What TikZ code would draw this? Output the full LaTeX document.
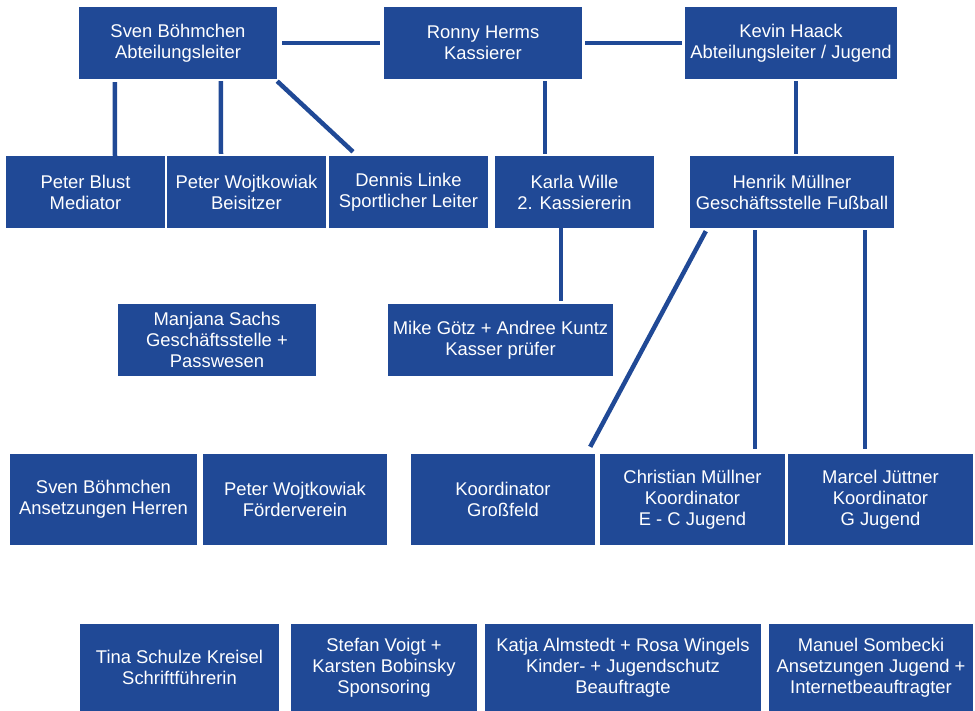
\documentclass[tikz,border=0pt]{standalone}
\usepackage{fontspec}
\setmainfont{Liberation Sans}
\usetikzlibrary{positioning}

\definecolor{clubblue}{RGB}{32,73,150}

\begin{document}
\begin{tikzpicture}[
  x=1pt, y=-1pt,
  box/.style   = {fill=clubblue, text=white, align=center, inner sep=0pt,
                  font=\fontsize{18.4}{21}\selectfont, minimum height=72},
  tall/.style  = {box, minimum height=91},
  foot/.style  = {box, minimum height=87},
  link/.style  = {draw=clubblue, line width=4.5},
]
\useasboundingbox (0,0) rectangle (975,711);

% ---- board (top row) --------------------------------------------------------
\node[box, minimum width=198] (sven)  at (178,43) {Sven Böhmchen\\Abteilungsleiter};
\node[box, minimum width=198] (ronny) at (483,43) {Ronny Herms\\Kassierer};
\node[box, minimum width=212] (kevin) at (791,43) {Kevin Haack\\Abteilungsleiter / Jugend};

\draw[link, shorten <=5, shorten >=4] (sven) -- (ronny);
\draw[link, shorten <=3, shorten >=3] (ronny) -- (kevin);

% ---- second row -------------------------------------------------------------
\node[box, minimum width=159] (blust)  at (85.5,192)  {Peter Blust\\Mediator};
\node[box, minimum width=159] (wojt)   at (246.5,192) {Peter Wojtkowiak\\Beisitzer};
\node[box, minimum width=159] (linke)  at (408.5,192) {Dennis Linke\\Sportlicher Leiter};
\node[box, minimum width=159] (karla)  at (574.5,192) {Karla Wille\\2. Kassiererin};
\node[box, minimum width=204] (henrik) at (792,192)   {Henrik Müllner\\Geschäftsstelle Fußball};

\draw[link] ([xshift=36, yshift=-3]sven.south west)  -- ([xshift=29.5]blust.north);
\draw[link] ([xshift=142, yshift=-2]sven.south west) -- ([xshift=-25.5, yshift=2]wojt.north);
\draw[link] ([yshift=-2]sven.south east) -- ([xshift=-55.5, yshift=4]linke.north);
\draw[link] ([xshift=62, yshift=-2]ronny.south) -- ([xshift=-29.5, yshift=2]karla.north);
\draw[link] ([xshift=5, yshift=-2]kevin.south)  -- ([xshift=4, yshift=2]henrik.north);

% ---- third row --------------------------------------------------------------
\node[box, minimum width=198] (manjana) at (217,340)   {Manjana Sachs\\Geschäftsstelle +\\Passwesen};
\node[box, minimum width=225] (mike)    at (500.5,340) {Mike Götz + Andree Kuntz\\Kasser prüfer};

\draw[link] ([xshift=-13.5]karla.south) -- ([xshift=60.5, yshift=3]mike.north);

% ---- coordinators -----------------------------------------------------------
\node[tall, minimum width=187] (ansetz)    at (103.5,499.5) {Sven Böhmchen\\Ansetzungen Herren};
\node[tall, minimum width=184] (foerder)   at (295,499.5)   {Peter Wojtkowiak\\Förderverein};
\node[tall, minimum width=184] (gross)     at (503,499.5)   {Koordinator\\Großfeld};
\node[tall, minimum width=185] (christian) at (692.5,499.5) {Christian Müllner\\Koordinator\\E - C Jugend};
\node[tall, minimum width=185] (marcel)    at (880.5,499.5) {Marcel Jüttner\\Koordinator\\G Jugend};

\draw[link] ([xshift=16, yshift=-3]henrik.south west) -- ([xshift=-5, yshift=7]gross.north east);
\draw[link] ([xshift=-37, yshift=-2]henrik.south) -- ([xshift=62.5, yshift=5]christian.north);
\draw[link] ([xshift=73, yshift=-2]henrik.south)  -- ([xshift=-15.5, yshift=5]marcel.north);

% ---- bottom row -------------------------------------------------------------
\node[foot, minimum width=199] (tina)   at (179.5,667.5) {Tina Schulze Kreisel\\Schriftführerin};
\node[foot, minimum width=186] (stefan) at (384,667.5)   {Stefan Voigt +\\Karsten Bobinsky\\Sponsoring};
\node[foot, minimum width=276] (katja)  at (623,667.5)   {Katja Almstedt + Rosa Wingels\\Kinder- + Jugendschutz\\Beauftragte};
\node[foot, minimum width=204] (manuel) at (871,667.5)   {Manuel Sombecki\\Ansetzungen Jugend +\\Internetbeauftragter};

\end{tikzpicture}
\end{document}
